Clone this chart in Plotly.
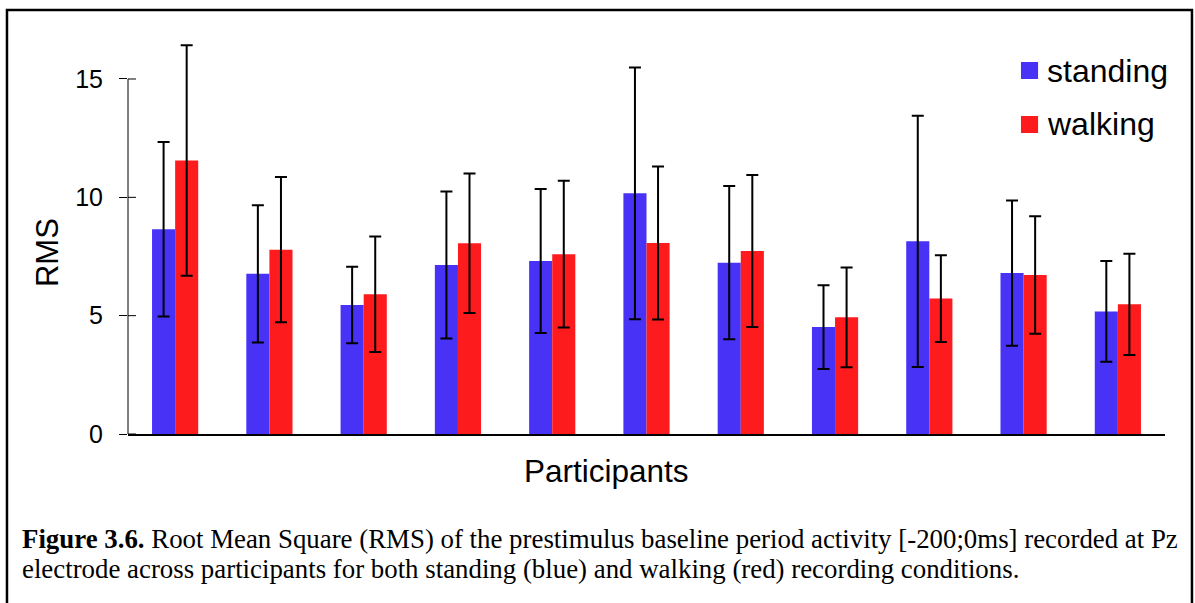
import plotly.graph_objects as go

# RMS of the prestimulus baseline at Pz, per participant
participants = ["P1", "P2", "P3", "P4", "P5", "P6", "P7", "P8", "P9", "P10", "P11"]
standing = [8.65, 6.77, 5.45, 7.14, 7.31, 10.17, 7.24, 4.52, 8.14, 6.80, 5.18]
standing_sd = [3.69, 2.90, 1.62, 3.11, 3.04, 5.32, 3.24, 1.77, 5.31, 3.07, 2.13]
walking = [11.56, 7.79, 5.90, 8.06, 7.60, 8.07, 7.73, 4.93, 5.72, 6.72, 5.48]
walking_sd = [4.87, 3.07, 2.44, 2.95, 3.10, 3.23, 3.21, 2.11, 1.83, 2.48, 2.14]
y_ticks = [0, 5, 10, 15]
y_top = 17.07  # headroom so the tallest error bars are not clipped

BLUE = "#4732F6"
RED = "#FE1B1D"
SANS = "Liberation Sans, Arial, sans-serif"
SERIF = "Liberation Serif, Times New Roman, serif"

fig = go.Figure()
for name, vals, sd, col in [("standing", standing, standing_sd, BLUE),
                            ("walking", walking, walking_sd, RED)]:
    fig.add_trace(go.Bar(
        x=participants, y=vals, name=name,
        marker=dict(color=col, line=dict(width=0)),
        error_y=dict(type="data", array=sd, visible=True,
                     color="black", thickness=2, width=6),
        showlegend=False,
    ))

shapes = []
# y axis line from 0 to the top tick
shapes.append(dict(type="line", xref="paper", yref="y", x0=0, x1=0,
                   y0=y_ticks[0], y1=y_ticks[-1], line=dict(color="black", width=1)))
# inner half of the crossing ticks
for t in y_ticks:
    shapes.append(dict(type="line", xref="paper", yref="y", x0=0, x1=0.0077,
                       y0=t, y1=t, line=dict(color="black", width=1)))
# outer frame around figure and caption
shapes.append(dict(type="rect", xref="paper", yref="paper",
                   x0=-0.1167, x1=1.026, y0=-0.5, y1=1.0495,
                   line=dict(color="black", width=2.5), fillcolor="rgba(0,0,0,0)"))

# legend: colour squares with labels
legend_items = [("standing", BLUE, 0.9208, 0.8787, 0.8985),
                ("walking", RED, 0.7871, 0.7450, 0.7673)]
annotations = []
for label, col, ytop, ybot, ymid in legend_items:
    shapes.append(dict(type="rect", xref="paper", yref="paper",
                       x0=0.8611, x1=0.8776, y0=ybot, y1=ytop,
                       fillcolor=col, line=dict(width=0)))
    annotations.append(dict(text=label, xref="paper", yref="paper", x=0.8843, y=ymid,
                            xanchor="left", yanchor="middle", showarrow=False,
                            font=dict(family=SANS, size=32, color="black")))

annotations += [
    dict(text="RMS", xref="paper", yref="paper", x=-0.0781, y=0.448, textangle=-90,
         xanchor="center", yanchor="middle", showarrow=False,
         font=dict(family=SANS, size=31, color="black")),
    dict(text="Participants", xref="paper", yref="paper", x=0.461, y=-0.0916,
         xanchor="center", yanchor="middle", showarrow=False,
         font=dict(family=SANS, size=31.5, color="black")),
    dict(text="<b>Figure 3.6.</b> Root Mean Square (RMS) of the prestimulus baseline period "
              "activity [-200;0ms] recorded at Pz",
         xref="paper", yref="paper", x=-0.1045, y=-0.2599, xanchor="left", yanchor="middle",
         align="left", showarrow=False,
         font=dict(family=SERIF, size=26.85, color="black")),
    dict(text="electrode across participants for both standing (blue) and walking (red) "
              "recording conditions.",
         xref="paper", yref="paper", x=-0.1045, y=-0.3341, xanchor="left", yanchor="middle",
         align="left", showarrow=False,
         font=dict(family=SERIF, size=26.85, color="black")),
]

fig.update_layout(
    width=1195, height=603,
    margin=dict(l=128, r=30, t=30, b=169),
    paper_bgcolor="white", plot_bgcolor="white",
    barmode="group", bargap=0.51, bargroupgap=0,
    shapes=shapes, annotations=annotations, showlegend=False,
    xaxis=dict(showticklabels=False, ticks="", showgrid=False, zeroline=False,
               showline=True, linecolor="black", linewidth=2),
    yaxis=dict(range=[0, y_top], tickvals=y_ticks, ticks="outside", ticklen=8,
               tickcolor="black", tickwidth=1, showgrid=False, zeroline=False,
               showline=False, ticklabelstandoff=11,
               tickfont=dict(family=SANS, size=25, color="black")),
)

fig.write_html("out.html")
